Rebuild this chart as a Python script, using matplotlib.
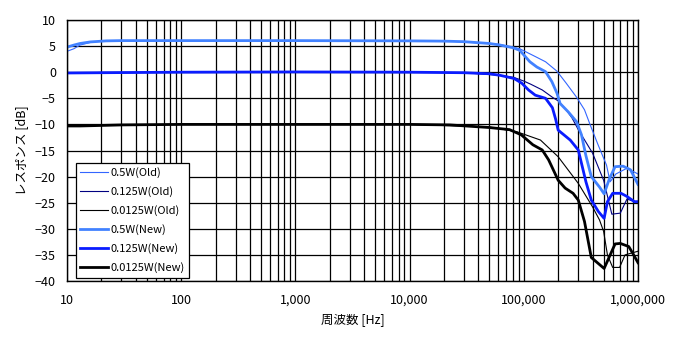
import matplotlib
matplotlib.use('Agg')
import matplotlib.pyplot as plt
from matplotlib.ticker import FixedLocator, FuncFormatter, LogLocator

plt.rcParams['font.family'] = ['Noto Sans CJK JP', 'DejaVu Sans']

# 0.5W(Old) - thin light blue
f_05_old = [10, 11.5, 13, 16, 20, 30, 100, 1000, 10000, 20000, 50000, 62000, 92000,
            126000, 155000, 195000, 235000, 290000, 340000, 380000, 445000, 530000,
            570000, 640000, 800000, 1000000]
db_05_old = [4.0, 4.5, 5.2, 5.7, 5.95, 6.05, 6.05, 6.05, 6.05, 6.0, 5.5, 5.3, 4.5,
             3.0, 2.0, 0.2, -2.1, -4.8, -7.2, -10.0, -13.8, -17.8,
             -21.0, -19.5, -18.4, -19.5]

# 0.125W(Old) - thin navy
f_0125_old = [10, 20, 100, 1000, 10000, 30000, 62000, 82000, 100000, 115000, 145000,
              178000, 200000, 235000, 265000, 300000, 400000, 500000, 590000, 700000,
              800000, 1000000]
db_0125_old = [-0.2, -0.05, 0.0, 0.05, 0.0, -0.1, -0.6, -1.0, -1.7, -2.3, -3.4,
               -4.8, -5.5, -7.2, -8.8, -11.0, -15.5, -20.7, -27.2, -27.0,
               -24.3, -25.0]

# 0.0125W(Old) - thin black
f_00125_old = [10, 20, 100, 1000, 10000, 50000, 86700, 140000, 200000, 300000, 400000,
               460000, 500000, 540000, 600000, 690000, 770000, 1000000]
db_00125_old = [-10.2, -10.1, -10.0, -10.0, -10.0, -10.5, -11.4, -13.0, -16.2, -21.3, -25.8,
                -28.3, -30.5, -35.0, -37.4, -37.4, -35.0, -34.3]

# 0.5W(New) - thick light blue
f_05_new = [10, 11.5, 13, 16, 22, 30, 100, 1000, 10000, 20000, 30000, 50000, 62000,
            80000, 92000, 113000, 130000, 155000, 176000, 195000, 208000, 245000,
            290000, 320000, 350000, 390000, 460000, 505000, 560000, 630000, 740000,
            860000, 1000000]
db_05_new = [4.8, 5.2, 5.5, 5.8, 6.0, 6.05, 6.05, 6.05, 6.0, 5.95, 5.85, 5.5, 5.2,
             4.7, 4.2, 2.0, 1.0, 0.1, -1.8, -4.0, -6.0, -7.6,
             -9.5, -12.0, -16.0, -20.0, -22.0, -23.3, -20.5, -18.1, -18.0,
             -18.7, -21.5]

# 0.125W(New) - thick blue
f_0125_new = [10, 20, 100, 1000, 10000, 30000, 50000, 62000, 82000, 96000, 110000,
              126000, 155000, 178000, 190000, 200000, 255000, 300000, 350000, 390000,
              450000, 505000, 540000, 600000, 710000, 800000, 930000, 1000000]
db_0125_new = [-0.15, -0.1, 0.0, 0.05, 0.0, -0.1, -0.3, -0.6, -1.2, -2.1, -3.4,
               -4.4, -5.0, -6.8, -9.0, -11.1, -13.0, -14.9, -21.0, -24.5,
               -26.7, -28.0, -24.8, -23.2, -23.2, -23.8, -24.8, -24.8]

# 0.0125W(New) - thick black
f_00125_new = [10, 13, 20, 30, 100, 1000, 10000, 22600, 50000, 75000, 95000, 120000,
               145000, 165000, 200000, 230000, 270000, 300000, 340000, 390000, 505000,
               630000, 700000, 830000, 900000, 1000000]
db_00125_new = [-10.3, -10.3, -10.2, -10.1, -10.0, -10.0, -10.0, -10.1, -10.6, -11.0, -12.0, -13.9,
                -14.9, -16.8, -20.7, -22.2, -23.2, -24.5, -28.6, -35.5, -37.6,
                -32.9, -32.8, -33.4, -34.7, -36.5]

x_ticks = [10, 100, 1000, 10000, 100000, 1000000]
y_ticks = list(range(-40, 11, 5))

fig = plt.figure(figsize=(6.73, 3.52), dpi=100)
ax = fig.add_axes([67 / 673, 1 - 281 / 352, 571 / 673, 261 / 352])

ax.plot(f_05_old, db_05_old, color='#3366ff', lw=0.8, label='0.5W(Old)')
ax.plot(f_0125_old, db_0125_old, color='#000080', lw=0.8, label='0.125W(Old)')
ax.plot(f_00125_old, db_00125_old, color='black', lw=0.8, label='0.0125W(Old)')
ax.plot(f_05_new, db_05_new, color='#4282ff', lw=2.0, label='0.5W(New)')
ax.plot(f_0125_new, db_0125_new, color='#0a1cff', lw=2.0, label='0.125W(New)')
ax.plot(f_00125_new, db_00125_new, color='black', lw=2.0, label='0.0125W(New)')

ax.set_xscale('log')
ax.set_xlim(10, 1000000)
ax.set_ylim(-40, 10)
ax.xaxis.set_major_locator(FixedLocator(x_ticks))
ax.xaxis.set_minor_locator(LogLocator(base=10, subs=range(2, 10), numticks=20))
ax.xaxis.set_major_formatter(FuncFormatter(lambda v, p: '{:,}'.format(int(round(v)))))
ax.xaxis.set_minor_formatter(FuncFormatter(lambda v, p: ''))
ax.set_yticks(y_ticks)

ax.grid(True, which='both', color='black', lw=0.9)
ax.set_axisbelow(True)
ax.tick_params(which='both', length=0, labelsize=9)
ax.tick_params(axis='x', pad=9)
ax.tick_params(axis='y', pad=8)
for s in ax.spines.values():
    s.set_linewidth(1.0)

ax.set_xlabel('周波数 [Hz]', fontsize=9, labelpad=5)
ax.set_ylabel('レスポンス [dB]', fontsize=9, labelpad=5)

leg = ax.legend(loc='lower left', bbox_to_anchor=(0.015, 0.013), borderaxespad=0,
                fontsize=8, fancybox=False, framealpha=1, edgecolor='black',
                handlelength=2.5, handletextpad=0.2, labelspacing=0.73,
                borderpad=0.4)
leg.get_frame().set_linewidth(0.9)

fig.savefig('out.png', dpi=100)
